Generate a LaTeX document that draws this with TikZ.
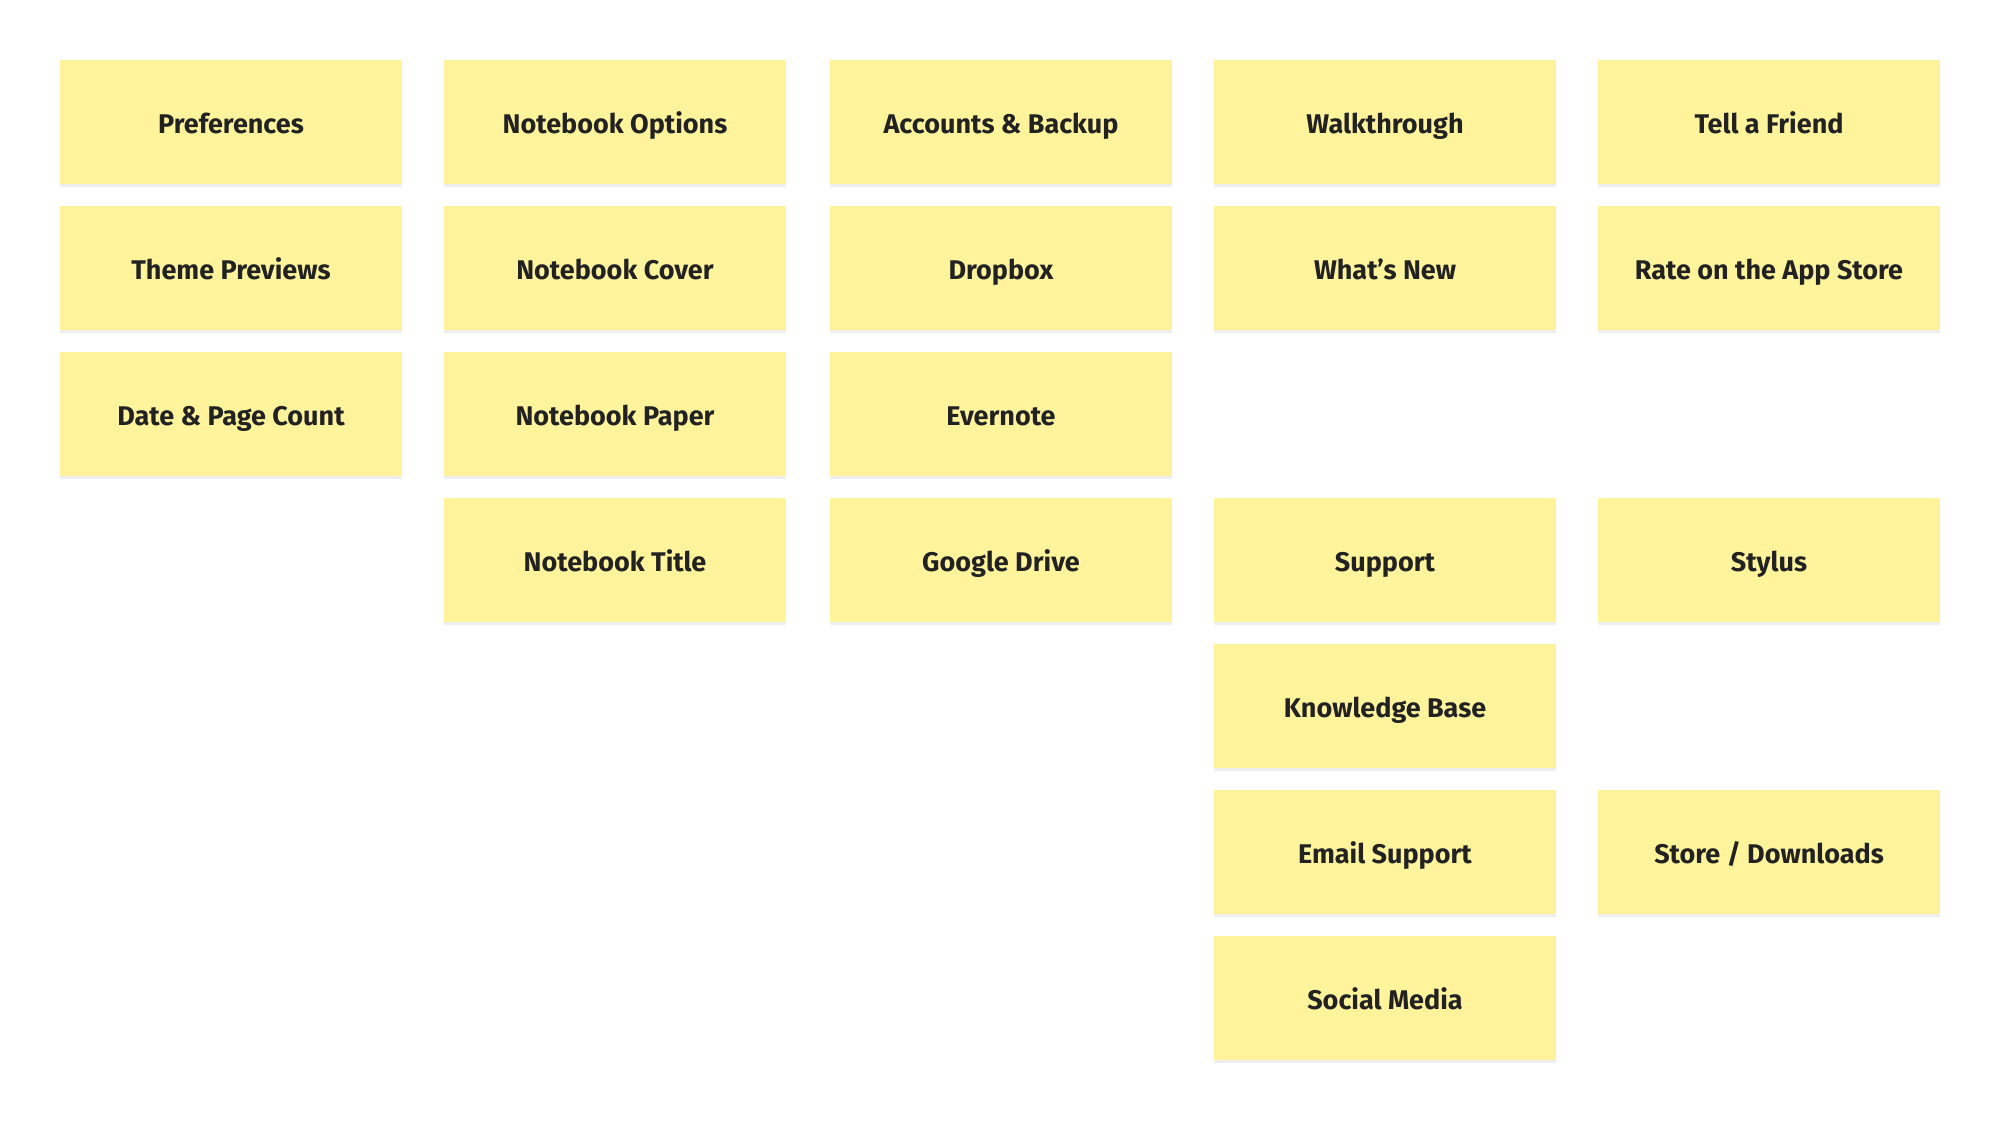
\documentclass[tikz,border=0pt]{standalone}
\usepackage{fontspec}
\setmainfont{Fira Sans}
\usetikzlibrary{shadows}
\definecolor{sticky}{HTML}{FFF49C}
\definecolor{inkc}{HTML}{222222}
\tikzset{
  sticky/.style={rectangle, fill=sticky, draw=none, minimum width=171pt, minimum height=62pt,
    inner sep=0pt, text=inkc, font=\fontsize{13.5}{16}\selectfont\bfseries,
    text height=11pt, text depth=0pt,
    drop shadow={shadow xshift=0pt, shadow yshift=-1.5pt, opacity=0.10, fill=black!60}}
}
\begin{document}
\begin{tikzpicture}[x=0.5pt,y=-0.5pt]
\useasboundingbox[fill=white] (0,0) rectangle (2000,1120);
% column centres: 231, 615, 1001, 1385, 1769 ; row centres: 122, 268, 414, 560, 706, 852, 998
\node[sticky] (pref)  at (231,122) {Preferences};
\node[sticky] (theme) at (231,268) {Theme Previews};
\node[sticky] (date)  at (231,414) {Date \& Page Count};
\node[sticky] (nbopt) at (615,122) {Notebook Options};
\node[sticky] (nbcov) at (615,268) {Notebook Cover};
\node[sticky] (nbpap) at (615,414) {Notebook Paper};
\node[sticky] (nbtit) at (615,560) {Notebook Title};
\node[sticky] (acct)  at (1001,122) {Accounts \& Backup};
\node[sticky] (dbox)  at (1001,268) {Dropbox};
\node[sticky] (ever)  at (1001,414) {Evernote};
\node[sticky] (gdrv)  at (1001,560) {Google Drive};
\node[sticky] (walk)  at (1385,122) {Walkthrough};
\node[sticky] (new)   at (1385,268) {What’s New};
\node[sticky] (supp)  at (1385,560) {Support};
\node[sticky] (kb)    at (1385,706) {Knowledge Base};
\node[sticky] (email) at (1385,852) {Email Support};
\node[sticky] (soc)   at (1385,998) {Social Media};
\node[sticky] (tell)  at (1769,122) {Tell a Friend};
\node[sticky] (rate)  at (1769,268) {Rate on the App Store};
\node[sticky] (styl)  at (1769,560) {Stylus};
\node[sticky] (store) at (1769,852) {Store / Downloads};
\end{tikzpicture}
\end{document}
